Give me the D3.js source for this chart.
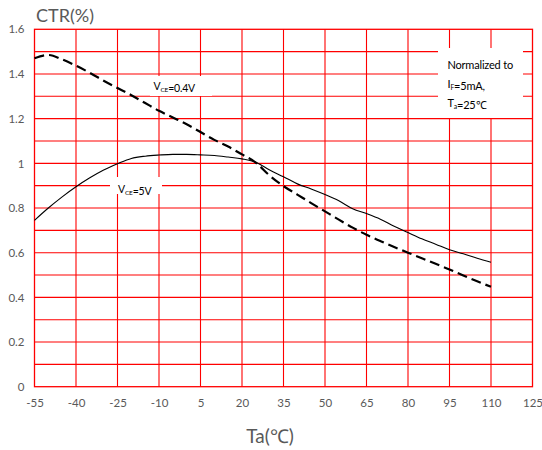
<!DOCTYPE html>
<html>
<head>
<meta charset="utf-8">
<script src="https://cdn.jsdelivr.net/npm/d3@7"></script>
<style>
  html, body { margin: 0; padding: 0; background: #fff; }
  svg { display: block; }
  text { font-family: Lato, "Open Sans", "Liberation Sans", sans-serif; }
</style>
</head>
<body>
<svg id="chart" width="542" height="450"></svg>
<script>
// Ambient temperature (°C) sample points
const temps = [-55,-50,-45,-40,-35,-30,-25,-20,-15,-10,-5,0,5,10,15,20,25,30,35,40,45,50,55,60,65,70,75,80,85,90,95,100,105,110];
// Normalized CTR at VCE = 5V (solid line)
const ctr5V = [0.745,0.80,0.85,0.895,0.935,0.97,0.998,1.022,1.032,1.037,1.04,1.04,1.038,1.035,1.028,1.02,1.005,0.97,0.94,0.908,0.885,0.86,0.832,0.797,0.775,0.75,0.718,0.69,0.662,0.638,0.613,0.595,0.575,0.557];
// Normalized CTR at VCE = 0.4V (dashed line)
const ctr04V = [1.47,1.485,1.465,1.437,1.405,1.37,1.337,1.305,1.27,1.235,1.205,1.175,1.14,1.105,1.075,1.04,1.003,0.945,0.898,0.86,0.822,0.785,0.748,0.712,0.68,0.652,0.625,0.6,0.575,0.55,0.525,0.498,0.472,0.447];
// Axis ticks
const xTicks = [-55,-40,-25,-10,5,20,35,50,65,80,95,110,125];
const yLabelTicks = [0,0.2,0.4,0.6,0.8,1,1.2,1.4,1.6];
const yGridTicks = [0.1,0.2,0.3,0.4,0.5,0.6,0.7,0.8,0.9,1.0,1.1,1.2,1.3,1.4,1.5];

const svg = d3.select("#chart");
const plotLeft = 34.5, plotRight = 532.5, plotTop = 29.3, plotBottom = 386.7;

const x = d3.scaleLinear().domain([-55, 125]).range([plotLeft, plotRight]);
const y = d3.scaleLinear().domain([0, 1.6]).range([plotBottom, plotTop]);

const red = "#ff0000";
const grid = svg.append("g");

// Horizontal grid lines every 0.1
grid.selectAll("line.h").data(yGridTicks).join("line").attr("class", "h")
  .attr("x1", plotLeft).attr("x2", plotRight)
  .attr("y1", d => y(d)).attr("y2", d => y(d))
  .attr("stroke", red).attr("stroke-width", 1.1);

// Vertical grid lines at each labelled temperature
grid.selectAll("line.v").data(xTicks.slice(1, -1)).join("line").attr("class", "v")
  .attr("x1", d => x(d)).attr("x2", d => x(d))
  .attr("y1", plotTop).attr("y2", plotBottom)
  .attr("stroke", red).attr("stroke-width", 1.1);

// Plot border
svg.append("rect")
  .attr("x", plotLeft).attr("y", plotTop)
  .attr("width", plotRight - plotLeft).attr("height", plotBottom - plotTop)
  .attr("fill", "none").attr("stroke", red).attr("stroke-width", 1.3);

// Axes (tick labels only)
const xAxis = d3.axisBottom(x).tickValues(xTicks).tickSize(0).tickPadding(12).tickFormat(d => String(d));
const gx = svg.append("g").attr("transform", `translate(0,${plotBottom})`).call(xAxis);
gx.select(".domain").remove();
gx.selectAll("text").attr("fill", "#595959").style("font-size", "11.5px");

const yAxis = d3.axisLeft(y).tickValues(yLabelTicks).tickSize(0).tickPadding(10).tickFormat(d => String(+d.toFixed(1)));
const gy = svg.append("g").attr("transform", `translate(${plotLeft},0)`).call(yAxis);
gy.select(".domain").remove();
gy.selectAll("text").attr("fill", "#595959").style("font-size", "11.5px");

// Axis titles
svg.append("text").attr("x", 36).attr("y", 22)
  .attr("fill", "#595959").style("font-size", "18px").text("CTR(%)");
svg.append("text").attr("x", 270).attr("y", 443).attr("text-anchor", "middle")
  .attr("fill", "#595959").style("font-size", "19px").text("Ta(℃)");

// Curves
const line = d3.line().x(d => x(d[0])).y(d => y(d[1])).curve(d3.curveMonotoneX);

svg.append("path")
  .datum(temps.map((t, i) => [t, ctr5V[i]]))
  .attr("d", line)
  .attr("fill", "none").attr("stroke", "#000").attr("stroke-width", 1.1);

svg.append("path")
  .datum(temps.map((t, i) => [t, ctr04V[i]]))
  .attr("d", line)
  .attr("fill", "none").attr("stroke", "#000").attr("stroke-width", 2.2)
  .attr("stroke-dasharray", "10,5");

// Label helper: white box with text lines containing subscripts
function label(bx, by, bw, bh, lines, tx, ty, lh, size) {
  const g = svg.append("g");
  g.append("rect").attr("x", bx).attr("y", by).attr("width", bw).attr("height", bh).attr("fill", "#fff");
  lines.forEach((parts, i) => {
    const t = g.append("text").attr("x", tx).attr("y", ty + i * lh)
      .attr("fill", "#000").style("font-size", size + "px")
      .style("letter-spacing", "-0.2px");
    parts.forEach(p => {
      if (p.sub) {
        t.append("tspan").attr("dy", 2).style("font-size", (size * 0.62) + "px").text(p.sub);
        t.append("tspan").attr("dy", -2).text("");
      } else {
        t.append("tspan").text(p.t);
      }
    });
  });
}

label(150, 76, 62, 20, [[{t: "V"}, {sub: "CE"}, {t: "=0.4V"}]], 153.5, 90, 0, 10.5);
label(110, 177, 52, 17, [[{t: "V"}, {sub: "CE"}, {t: "=5V"}]], 118, 193, 0, 10.5);
label(438, 48, 85, 70, [
  [{t: "Normalized to"}],
  [{t: "I"}, {sub: "F"}, {t: "=5mA,"}],
  [{t: "T"}, {sub: "a"}, {t: "=25℃"}]
], 447.5, 69, 19, 11);
</script>
</body>
</html>
